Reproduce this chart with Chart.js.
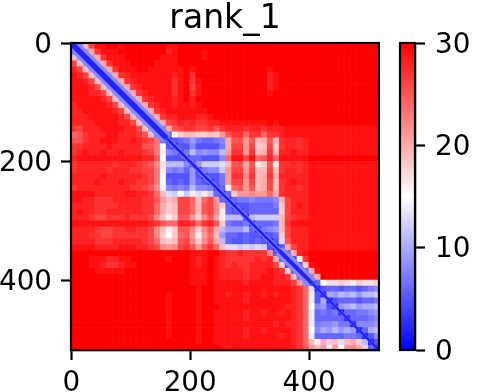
<!DOCTYPE html>
<html><head><meta charset="utf-8">
<script src="https://cdn.jsdelivr.net/npm/chart.js@4/dist/chart.umd.min.js"></script>
<style>html,body{margin:0;padding:0;background:#fff;width:484px;height:392px;overflow:hidden}
canvas{position:absolute;top:0}</style></head><body>
<canvas id="main" width="380" height="392" style="left:0"></canvas>
<canvas id="bar" width="104" height="392" style="left:380px"></canvas>
<script>
const titleText="rank_1";
const axisTicks=[0,200,400];
const colorbarTicks=[0,10,20,30];
const axisExtent=[-0.5,517.5];
const cellSize=10;
const diagonalStops=[0,160,260,350,405,517];
const diagonalCoreWidth=[5.5,3,3,4,2.5];
const diagonalHaloWidth=[12,5,5,11,3];
const r00=[1,7,19,26,29,29,30,30,29,30,30,30,30,30,30,30,29,29,30,30,30,30,30,30,30,30,30,30,30,30,30,30,30,30,30,30,30,30,30,30,30,30,30,30,30,30,30,30,30,30,30,30];
const r01=[7,2,9,20,27,29,29,29,30,30,30,30,30,30,30,30,28,29,30,30,30,30,29,30,30,30,30,30,30,30,30,30,30,30,30,30,30,30,30,30,30,30,30,30,30,30,30,30,30,30,30,30];
const r02=[19,9,3,10,20,27,29,29,29,30,30,30,30,30,30,29,29,29,30,30,30,30,29,30,30,30,30,30,30,30,30,30,30,30,30,30,30,30,30,30,30,30,30,30,30,30,30,30,30,30,30,30];
const r03=[26,19,10,3,10,20,27,29,29,29,30,30,30,30,29,29,29,29,30,30,30,30,30,30,30,30,30,30,30,30,30,30,30,30,30,30,30,30,30,30,30,30,30,30,30,30,30,30,30,30,30,30];
const r04=[28,26,19,10,3,10,20,27,29,29,29,30,30,29,29,29,29,29,29,30,29,30,30,30,30,30,30,30,30,30,30,30,30,29,30,30,30,30,30,30,30,30,30,30,30,30,30,30,30,30,30,30];
const r05=[29,28,26,19,10,3,10,20,27,28,29,29,29,29,29,29,29,28,29,30,27,30,30,30,30,30,30,30,30,30,30,30,30,28,29,30,30,30,30,30,30,30,30,30,30,30,30,30,30,30,30,30];
const r06=[29,29,28,26,19,10,3,10,20,27,28,29,29,29,29,29,29,27,29,30,27,29,30,30,30,30,30,30,30,30,30,30,30,28,29,30,30,30,30,30,30,30,30,30,30,30,30,30,30,30,30,30];
const r07=[29,29,29,28,26,19,10,3,10,20,27,28,29,29,29,29,29,27,29,30,26,29,30,30,30,30,30,30,30,30,30,30,30,28,29,30,30,30,30,30,30,30,30,30,30,30,30,30,30,30,30,30];
const r08=[29,29,29,28,28,26,19,10,3,10,20,27,28,29,29,29,29,27,29,30,27,29,30,30,30,30,30,30,30,30,30,30,30,29,30,30,30,30,30,30,30,30,30,30,30,30,30,30,30,30,30,30];
const r09=[29,29,29,29,29,28,26,19,10,3,10,20,27,28,29,29,29,28,29,30,28,30,30,30,30,30,30,30,30,30,30,30,30,30,30,30,30,30,30,30,30,30,30,30,30,30,30,30,30,30,30,30];
const r10=[28,29,29,29,29,29,28,26,19,10,3,10,20,27,28,29,29,28,29,29,28,29,30,30,30,30,30,30,30,30,30,30,30,30,30,30,30,30,30,30,30,30,30,30,30,30,30,30,30,30,30,30];
const r11=[28,28,29,29,29,29,29,28,26,19,10,3,10,20,27,28,29,29,29,29,29,29,29,30,30,30,30,30,30,30,30,30,30,30,30,30,30,30,30,30,30,30,30,30,30,30,30,30,30,30,30,30];
const r12=[28,28,28,29,29,29,29,29,28,26,19,10,3,10,20,27,28,28,29,29,29,28,28,29,30,30,30,30,30,30,30,30,30,30,30,30,30,30,30,30,30,30,30,30,30,30,30,30,30,30,30,30];
const r13=[28,28,28,28,29,29,29,29,28,28,26,19,10,3,10,20,26,27,28,27,28,27,27,28,28,29,29,29,29,29,29,29,29,30,29,30,30,30,30,30,30,30,30,30,30,30,30,30,30,30,30,30];
const r14=[27,26,28,28,28,29,29,29,29,28,28,26,19,10,2,7,20,25,26,27,27,26,26,27,25,27,28,28,28,27,28,28,27,28,28,28,29,29,29,29,29,29,29,29,29,29,29,29,29,29,29,29];
const r15=[24,25,27,28,28,28,29,29,28,28,28,27,25,19,7,2,6,15,18,19,19,18,18,19,18,21,25,27,27,24,27,27,24,27,27,28,29,29,29,29,29,29,29,29,29,29,29,29,29,29,29,29];
const r16=[25,25,27,28,28,29,29,29,28,28,29,28,27,26,23,7,2,5,6,7,9,7,6,6,7,8,20,25,25,21,25,19,20,25,19,27,28,28,27,28,29,29,29,29,29,29,29,29,29,29,29,29];
const r17=[27,27,28,28,28,28,29,28,28,28,28,28,25,25,23,15,5,2,5,5,8,5,5,5,5,7,20,26,26,21,26,18,19,26,18,27,28,28,27,28,29,29,29,29,29,29,29,29,29,29,29,29];
const r18=[27,28,29,28,28,29,28,28,29,28,28,28,27,26,23,16,8,7,3,7,11,8,9,8,8,11,21,27,27,21,27,19,20,27,19,28,28,29,28,28,29,29,29,29,29,29,29,29,29,29,29,29];
const r19=[28,29,29,29,29,29,29,29,29,29,29,29,28,28,25,15,5,5,5,2,6,6,5,5,5,8,24,29,29,26,29,24,25,28,24,29,29,29,29,29,30,30,30,30,30,30,30,30,30,30,30,30];
const r20=[27,28,28,28,28,28,28,27,28,28,28,27,26,25,22,17,11,11,11,8,3,9,12,12,12,13,19,25,25,20,25,16,18,25,16,27,27,28,27,28,29,29,29,29,29,29,29,29,29,29,29,29];
const r21=[27,28,28,28,28,28,27,28,28,28,27,27,26,26,23,16,8,7,8,6,9,2,7,8,8,12,21,26,26,21,26,19,19,26,19,27,28,28,27,28,29,29,29,29,29,29,29,29,29,29,29,29];
const r22=[28,28,28,28,28,29,28,28,28,28,28,28,27,26,23,15,5,5,5,5,9,5,2,5,5,7,21,27,27,22,27,19,20,27,20,28,28,28,28,28,29,29,29,29,29,29,29,29,29,29,29,29];
const r23=[28,28,28,28,29,28,28,28,29,28,28,27,27,26,23,15,6,5,6,5,9,6,5,2,5,7,21,26,26,21,26,19,20,26,19,27,28,29,28,28,29,29,29,29,29,29,29,29,29,29,29,29];
const r24=[27,28,28,28,28,28,28,28,28,28,27,27,26,25,22,16,8,7,8,7,11,8,8,7,2,6,16,24,25,21,25,19,20,26,19,27,28,28,27,28,29,29,29,29,29,29,29,29,29,29,29,29];
const r25=[29,29,29,29,28,28,28,28,28,29,29,28,28,27,24,19,13,12,15,12,16,13,16,12,6,2,6,18,21,21,22,21,21,24,20,27,28,28,28,28,29,29,29,29,29,29,29,29,29,29,29,29];
const r26=[29,29,28,28,27,27,27,28,28,28,28,28,27,27,25,21,19,20,26,26,24,19,24,26,21,6,2,6,7,7,8,7,7,7,8,20,26,28,28,28,29,29,29,29,29,29,29,29,29,29,29,29];
const r27=[28,28,28,28,27,27,27,27,28,28,28,28,27,27,24,20,18,19,26,26,24,19,25,26,22,18,6,2,5,5,6,6,6,6,7,18,26,28,29,28,29,29,29,29,29,29,29,29,29,29,29,29];
const r28=[28,29,28,28,27,27,28,28,28,28,28,28,27,27,24,20,18,19,26,26,24,19,25,26,22,16,6,5,2,5,6,6,6,6,6,18,26,28,28,28,29,29,29,29,29,29,29,29,29,29,29,29];
const r29=[28,28,28,27,26,26,27,27,27,28,27,27,27,26,22,19,16,18,25,25,21,18,22,25,20,16,11,11,11,2,11,12,12,12,12,19,26,27,28,28,29,29,29,29,29,29,29,29,29,29,29,29];
const r30=[29,29,29,29,29,29,29,29,29,29,29,29,29,28,27,25,24,24,28,28,27,24,27,28,25,18,7,6,6,7,2,6,6,6,7,19,27,29,29,29,29,29,29,29,29,29,29,29,29,29,29,29];
const r31=[28,28,28,28,27,26,26,27,27,28,28,27,27,26,22,19,16,18,25,25,22,18,22,25,20,11,9,9,9,11,6,2,7,8,9,19,26,28,28,28,29,29,29,29,29,29,29,29,29,29,29,29];
const r32=[28,28,28,27,27,26,26,27,27,27,27,27,27,26,22,18,15,18,24,25,21,16,21,24,19,9,6,6,5,6,5,5,2,5,6,18,26,28,28,28,29,29,29,29,29,29,29,29,29,29,29,29];
const r33=[28,28,28,28,27,27,27,28,28,28,28,28,27,26,24,19,18,19,25,26,22,18,22,25,20,11,6,5,5,6,5,6,5,2,5,13,25,28,28,28,29,29,29,29,29,29,29,29,29,29,29,29];
const r34=[29,29,29,29,28,28,28,28,29,29,29,28,28,27,26,22,21,22,26,27,25,21,25,27,24,19,13,13,12,13,12,13,12,5,2,5,20,26,28,28,29,29,29,29,29,29,29,29,29,29,29,29];
const r35=[30,30,30,30,30,30,30,30,30,30,30,30,30,30,30,30,30,30,30,30,29,29,29,30,30,28,27,27,28,27,27,27,27,22,5,2,6,20,28,29,30,30,30,30,30,30,30,30,30,30,30,30];
const r36=[30,30,30,29,29,29,28,28,29,29,30,30,30,30,30,30,29,30,30,30,29,28,29,30,29,28,27,27,27,27,27,28,27,28,20,6,2,4,16,27,30,30,30,30,30,30,30,30,30,30,30,30];
const r37=[30,30,30,29,29,28,27,27,28,29,29,30,30,30,30,30,30,30,30,30,29,28,29,30,29,28,27,28,27,27,28,28,28,28,26,18,4,2,5,18,29,30,30,30,30,30,30,30,30,30,30,30];
const r38=[30,30,30,30,29,29,29,29,29,30,30,30,30,30,30,30,30,30,30,30,29,29,29,30,29,28,28,28,28,27,28,28,28,29,28,27,18,5,2,6,20,29,30,30,30,30,30,30,30,30,30,30];
const r39=[30,30,30,30,30,30,30,30,30,30,30,30,30,30,30,30,30,30,30,30,29,29,29,30,29,28,28,28,28,27,28,28,29,29,28,28,27,19,6,2,8,20,30,30,30,30,30,30,30,30,30,30];
const r40=[30,30,30,30,30,30,30,30,30,30,30,30,30,30,30,30,30,30,30,30,29,29,29,30,29,29,29,29,29,28,29,29,29,29,28,28,28,26,21,8,2,6,15,17,17,18,17,16,18,17,17,18];
const r41=[30,30,30,30,30,30,30,30,30,30,30,30,30,30,30,30,30,30,30,30,30,29,30,30,29,29,29,29,29,29,29,29,29,29,29,29,29,28,27,24,13,2,5,6,6,5,6,6,5,6,7,8];
const r42=[30,30,30,30,30,30,30,30,30,30,30,30,30,30,30,30,29,30,30,30,30,29,30,30,29,29,28,29,29,28,29,29,28,29,28,29,29,28,27,24,16,5,2,10,9,11,10,11,9,11,11,12];
const r43=[30,30,30,30,30,30,30,30,30,30,30,30,30,30,30,30,29,30,30,30,30,29,30,30,29,29,29,29,29,28,29,29,29,29,29,29,29,28,27,24,14,5,10,2,5,6,6,6,5,6,6,7];
const r44=[30,30,30,30,30,30,30,30,30,30,30,30,30,30,30,30,29,30,30,30,30,29,30,30,30,29,29,29,29,29,29,29,29,29,29,29,28,28,27,24,15,8,9,5,2,9,10,11,9,10,10,11];
const r45=[30,30,30,30,30,30,30,30,30,30,30,30,30,30,30,30,29,30,30,30,30,29,30,30,29,29,29,29,29,28,29,29,28,29,29,28,29,28,27,24,14,6,7,6,7,2,6,6,7,7,8,9];
const r46=[30,30,30,30,30,30,30,30,30,30,30,30,30,30,30,30,29,30,30,30,30,29,30,30,29,29,29,29,29,28,29,29,29,29,29,29,29,28,27,24,14,6,6,6,6,6,2,6,6,6,7,8];
const r47=[30,30,30,30,30,30,30,30,30,30,30,30,30,30,30,30,29,30,30,30,30,29,30,30,29,29,29,29,29,29,29,29,29,29,28,29,28,28,27,24,14,7,8,8,9,7,7,2,8,8,8,9];
const r48=[30,30,30,30,30,30,30,30,30,30,30,30,30,30,30,30,29,30,30,30,30,29,30,30,29,29,29,29,29,28,29,29,28,29,29,29,29,28,27,24,15,8,10,9,11,9,10,9,2,6,10,11];
const r49=[30,30,30,30,30,30,30,30,30,30,30,30,30,30,30,30,29,30,30,30,30,29,30,30,29,29,29,29,29,28,29,29,29,29,29,28,29,28,27,24,14,6,6,6,6,6,7,7,6,2,5,8];
const r50=[30,30,30,30,30,30,30,30,30,30,30,30,30,30,30,30,30,30,30,30,30,29,30,30,29,29,29,29,29,29,29,29,29,29,29,29,29,28,27,24,19,16,20,18,19,13,19,20,18,11,2,5];
const r51=[30,30,30,30,30,30,30,30,30,30,30,30,30,30,30,30,30,30,30,30,30,30,30,30,30,29,29,29,29,29,29,29,29,29,29,29,29,28,27,25,21,19,21,16,21,15,21,22,20,18,6,1];
const heatRows=[r00,r01,r02,r03,r04,r05,r06,r07,r08,r09,r10,r11,r12,r13,r14,r15,r16,r17,r18,r19,r20,r21,r22,r23,r24,r25,r26,r27,r28,r29,r30,r31,r32,r33,r34,r35,r36,r37,r38,r39,r40,r41,r42,r43,r44,r45,r46,r47,r48,r49,r50,r51];

function bwr(v){
  const t=Math.max(0,Math.min(30,v))/30;
  if(t<0.5){const c=Math.round(255*t*2);return `rgb(${c},${c},255)`;}
  const c=Math.round(255*(1-t)*2);return `rgb(255,${c},${c})`;
}
const FONT="'DejaVu Sans'";
const cells=[];const cellColors=[];
heatRows.forEach((row,j)=>row.forEach((v,i)=>{
  cells.push({x:i*cellSize+cellSize/2-0.5,y:j*cellSize+cellSize/2-0.5});
  cellColors.push(bwr(v));
}));
const diagonalPoints=diagonalStops.map(p=>({x:p,y:p}));
const frame={id:'frame',
  beforeDraw(c){
    const s=c.scales.y;
    if(s._labelsNudged)return;
    s.getLabelItems().forEach(it=>{it.options.translation[1]+=2.4;});
    s._labelsNudged=true;
  },
  afterDraw(c){
    const a=c.chartArea,g=c.ctx;g.save();g.strokeStyle='#000';g.lineWidth=2.2;
    g.strokeRect(a.left,a.top,a.right-a.left,a.bottom-a.top);g.restore();
  }};
const fixTicks=list=>(axis)=>{axis.ticks=list.map(v=>({value:v}));};
new Chart(document.getElementById('main'),{
  type:'scatter',
  data:{datasets:[
    {data:diagonalPoints,showLine:true,pointRadius:0,order:1,clip:0,borderColor:bwr(2),
     segment:{borderWidth:c=>diagonalCoreWidth[c.p0DataIndex]}},
    {data:diagonalPoints,showLine:true,pointRadius:0,order:2,clip:0,borderColor:bwr(8),
     segment:{borderWidth:c=>diagonalHaloWidth[c.p0DataIndex]}},
    {data:cells,order:3,clip:0,pointStyle:'rect',pointBorderWidth:0,
     pointBackgroundColor:cellColors,
     pointRadius:c=>{const s=c.chart.scales.x;return (Math.abs(s.getPixelForValue(cellSize)-s.getPixelForValue(0))+0.6)*Math.SQRT1_2;}}
  ]},
  options:{responsive:false,animation:false,events:[],
    layout:{padding:{right:1,left:0,top:0,bottom:0}},
    plugins:{legend:{display:false},tooltip:{enabled:false},
      title:{display:true,fullSize:false,text:titleText,color:'#000',font:{family:FONT,size:33,weight:'normal'},padding:{top:0,bottom:3.4}}},
    scales:{
      x:{type:'linear',position:'bottom',min:axisExtent[0],max:axisExtent[1],
        afterBuildTicks:fixTicks(axisTicks),
        afterFit(s){s.height=42;},
        grid:{drawOnChartArea:false,tickLength:10,tickWidth:2.2,tickColor:'#000'},
        border:{color:'#000',width:2.2},
        ticks:{color:'#000',font:{family:FONT,size:27.8},padding:7,maxRotation:0,autoSkip:false}},
      y:{type:'linear',reverse:true,min:axisExtent[0],max:axisExtent[1],
        afterBuildTicks:fixTicks(axisTicks),
        afterFit(s){s.width=71;},
        grid:{drawOnChartArea:false,tickLength:10,tickWidth:2.2,tickColor:'#000'},
        border:{color:'#000',width:2.2},
        ticks:{color:'#000',font:{family:FONT,size:27.8},padding:9,autoSkip:false}}
    }},
  plugins:[frame]
});
new Chart(document.getElementById('bar'),{
  type:'bar',
  data:{labels:['colorbar'],datasets:[{data:[[colorbarTicks[0],colorbarTicks[colorbarTicks.length-1]]],
    barPercentage:1,categoryPercentage:1,borderWidth:0,
    backgroundColor(c){
      const a=c.chart.chartArea;if(!a)return '#fff';
      const s=c.chart.scales.y;
      const g=c.chart.ctx.createLinearGradient(0,s.getPixelForValue(0),0,s.getPixelForValue(30));
      g.addColorStop(0,bwr(0));g.addColorStop(0.5,bwr(15));g.addColorStop(1,bwr(30));return g;
    }}]},
  options:{responsive:false,animation:false,events:[],
    layout:{padding:{left:20,top:43,bottom:42,right:0}},
    plugins:{legend:{display:false},tooltip:{enabled:false}},
    scales:{
      x:{display:false},
      y:{type:'linear',position:'right',min:0,max:30,
        afterBuildTicks:fixTicks(colorbarTicks),
        afterFit(s){s.width=69;},
        grid:{drawOnChartArea:false,tickLength:10,tickWidth:2.2,tickColor:'#000'},
        border:{color:'#000',width:2.2},
        ticks:{color:'#000',font:{family:FONT,size:27.8},padding:10,autoSkip:false}}
    }},
  plugins:[frame]
});
</script></body></html>
